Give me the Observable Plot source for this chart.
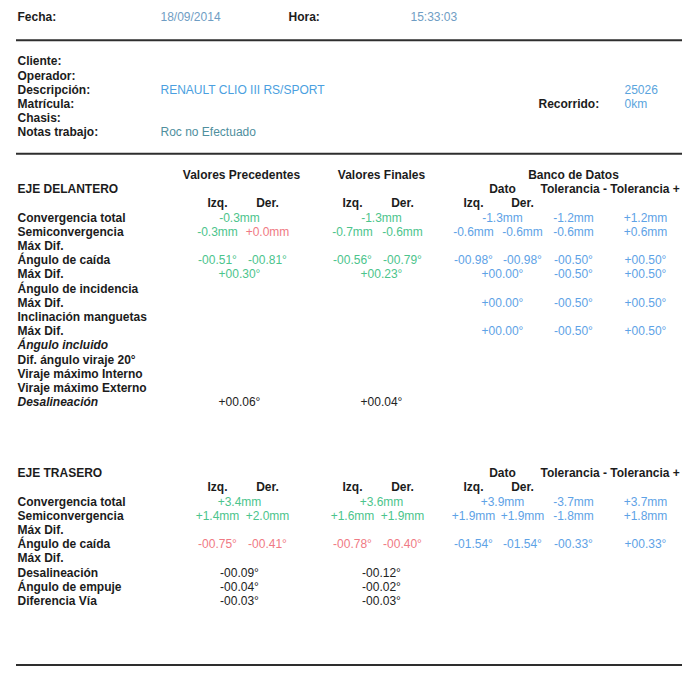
<!DOCTYPE html>
<html>
<head>
<meta charset="utf-8">
<script src="https://cdn.jsdelivr.net/npm/d3@7"></script>
<script src="https://cdn.jsdelivr.net/npm/@observablehq/plot@0.6"></script>
<style>
  html, body { margin: 0; padding: 0; background: #ffffff; }
  #chart svg { display: block; }
</style>
</head>
<body>
<div id="chart"></div>
<script>
// ---------- Data ----------
const fechaLabel = "Fecha:";
const fecha = "18/09/2014";
const horaLabel = "Hora:";
const hora = "15:33:03";

const headerLabels = ["Cliente:", "Operador:", "Descripción:", "Matrícula:", "Chasis:", "Notas trabajo:"];
const headerValues = ["", "", "RENAULT CLIO III RS/SPORT", "", "", "Roc no Efectuado"];
const codigo = "25026";
const recorridoLabel = "Recorrido:";
const recorrido = "0km";

const groupTitles = ["Valores Precedentes", "Valores Finales", "Banco de Datos"];
const datoTitle = "Dato";
const tolTitle = "Tolerancia - Tolerancia +";
const sideTitles = ["Izq.", "Der."];

const frontTitle = "EJE DELANTERO";
const frontLabels = ["Convergencia total", "Semiconvergencia", "Máx Dif.", "Ángulo de caída", "Máx Dif.",
  "Ángulo de incidencia", "Máx Dif.", "Inclinación manguetas", "Máx Dif.", "Ángulo incluido",
  "Dif. ángulo viraje 20°", "Viraje máximo Interno", "Viraje máximo Externo", "Desalineación"];
const frontItalic = ["Ángulo incluido", "Desalineación"];
const frontPrecedentes = [["-0.3mm"], ["-0.3mm", "+0.0mm"], [], ["-00.51°", "-00.81°"], ["+00.30°"],
  [], [], [], [], [], [], [], [], ["+00.06°"]];
const frontFinales = [["-1.3mm"], ["-0.7mm", "-0.6mm"], [], ["-00.56°", "-00.79°"], ["+00.23°"],
  [], [], [], [], [], [], [], [], ["+00.04°"]];
const frontDato = [["-1.3mm"], ["-0.6mm", "-0.6mm"], [], ["-00.98°", "-00.98°"], ["+00.00°"],
  [], ["+00.00°"], [], ["+00.00°"], [], [], [], [], []];
const frontTolMenos = ["-1.2mm", "-0.6mm", "", "-00.50°", "-00.50°", "", "-00.50°", "", "-00.50°", "", "", "", "", ""];
const frontTolMas = ["+1.2mm", "+0.6mm", "", "+00.50°", "+00.50°", "", "+00.50°", "", "+00.50°", "", "", "", "", ""];

const rearTitle = "EJE TRASERO";
const rearLabels = ["Convergencia total", "Semiconvergencia", "Máx Dif.", "Ángulo de caída", "Máx Dif.",
  "Desalineación", "Ángulo de empuje", "Diferencia Vía"];
const rearPrecedentes = [["+3.4mm"], ["+1.4mm", "+2.0mm"], [], ["-00.75°", "-00.41°"], [],
  ["-00.09°"], ["-00.04°"], ["-00.03°"]];
const rearFinales = [["+3.6mm"], ["+1.6mm", "+1.9mm"], [], ["-00.78°", "-00.40°"], [],
  ["-00.12°"], ["-00.02°"], ["-00.03°"]];
const rearDato = [["+3.9mm"], ["+1.9mm", "+1.9mm"], [], ["-01.54°", "-01.54°"], [], [], [], []];
const rearTolMenos = ["-3.7mm", "-1.8mm", "", "-00.33°", "", "", "", ""];
const rearTolMas = ["+3.7mm", "+1.8mm", "", "+00.33°", "", "", "", ""];

// ---------- Layout (separate from data) ----------
const col = {
  label: 17, headVal: 160, hora: 288, horaVal: 410, recorrido: 538, codigo: 624,
  vpC: 239, vpL: 217, vpR: 267,
  vfC: 381, vfL: 352, vfR: 402,
  bdC: 502, bdL: 473, bdR: 522, tolM: 573, tolP: 645,
  vpTitle: 241, vfTitle: 381, bdTitle: 573, tolTitle: 540
};
const row = { fecha: -3.1, rules: [-1.5, 6.5, 42.5], header0: 0, groupTitle: 8, frontTitle: 9, frontSides: 10, front0: 11,
  rearTitle: 29, rearSides: 30, rear0: 31 };
const colors = { label: "#1c1c1c", ok: "#4cc48c", bad: "#f07a84", plain: "#222222", dato: "#5ea2e6",
  fecha: "#6f9dc4", desc: "#4b9fe0", notas: "#4f8f9e", codigo: "#5aa4dd" };

const num = s => parseFloat(s);

// ---------- Build cells ----------
const boldStart = [], boldMid = [], italicStart = [], regStart = [], regMid = [];

boldStart.push({x: col.label, y: row.fecha, t: fechaLabel});
boldStart.push({x: col.hora, y: row.fecha, t: horaLabel});
regStart.push({x: col.headVal, y: row.fecha, t: fecha, c: colors.fecha});
regStart.push({x: col.horaVal, y: row.fecha, t: hora, c: colors.fecha});

headerLabels.forEach((l, i) => boldStart.push({x: col.label, y: row.header0 + i, t: l}));
headerValues.forEach((v, i) => { if (v) regStart.push({x: col.headVal, y: row.header0 + i, t: v, c: i === 2 ? colors.desc : colors.notas}); });
regStart.push({x: col.codigo, y: row.header0 + 2, t: codigo, c: colors.codigo});
boldStart.push({x: col.recorrido, y: row.header0 + 3, t: recorridoLabel});
regStart.push({x: col.codigo, y: row.header0 + 3, t: recorrido, c: colors.codigo});

boldMid.push({x: col.vpTitle, y: row.groupTitle, t: groupTitles[0]});
boldMid.push({x: col.vfTitle, y: row.groupTitle, t: groupTitles[1]});
boldMid.push({x: col.bdTitle, y: row.groupTitle, t: groupTitles[2]});

function section(title, titleRow, sidesRow, firstRow, labels, italics, prec, fin, dato, tolM, tolP) {
  boldStart.push({x: col.label, y: titleRow, t: title});
  boldMid.push({x: col.bdC, y: titleRow, t: datoTitle});
  boldStart.push({x: col.tolTitle, y: titleRow, t: tolTitle});
  [[col.vpL, col.vpR], [col.vfL, col.vfR], [col.bdL, col.bdR]].forEach(([l, r]) => {
    boldMid.push({x: l, y: sidesRow, t: sideTitles[0]});
    boldMid.push({x: r, y: sidesRow, t: sideTitles[1]});
  });
  labels.forEach((l, i) => {
    const y = firstRow + i;
    (italics.includes(l) ? italicStart : boldStart).push({x: col.label, y, t: l});
    const d = dato[i];
    const hasTol = tolM[i] !== "";
    const colorFor = (v, k) => {
      if (!hasTol) return colors.plain;
      const base = num(d.length > 1 ? d[k] : d[0]);
      const lo = base + num(tolM[i]), hi = base + num(tolP[i]);
      const x = num(v);
      return (x > lo + 1e-9 && x < hi - 1e-9) ? colors.ok : colors.bad;
    };
    const place = (vals, c, l2, r2, fixedColor) => {
      if (vals.length === 1) regMid.push({x: c, y, t: vals[0], c: fixedColor || colorFor(vals[0], 0)});
      else if (vals.length === 2) {
        regMid.push({x: l2, y, t: vals[0], c: fixedColor || colorFor(vals[0], 0)});
        regMid.push({x: r2, y, t: vals[1], c: fixedColor || colorFor(vals[1], 1)});
      }
    };
    place(prec[i], col.vpC, col.vpL, col.vpR);
    place(fin[i], col.vfC, col.vfL, col.vfR);
    place(d, col.bdC, col.bdL, col.bdR, colors.dato);
    if (tolM[i]) regMid.push({x: col.tolM, y, t: tolM[i], c: colors.dato});
    if (tolP[i]) regMid.push({x: col.tolP, y, t: tolP[i], c: colors.dato});
  });
}
section(frontTitle, row.frontTitle, row.frontSides, row.front0, frontLabels, frontItalic,
  frontPrecedentes, frontFinales, frontDato, frontTolMenos, frontTolMas);
section(rearTitle, row.rearTitle, row.rearSides, row.rear0, rearLabels, [],
  rearPrecedentes, rearFinales, rearDato, rearTolMenos, rearTolMas);

// ---------- Plot ----------
const W = 682, H = 675;
const rowPx = 14.2, originPx = 61;
const font = "'Liberation Sans', Arial, sans-serif";
const common = {x: "x", y: "y", text: "t", fontSize: 12, fontFamily: font};

const chart = Plot.plot({
  width: W, height: H, margin: 0,
  style: {background: "#ffffff", fontFamily: font, fontSize: "12px"},
  x: {type: "linear", domain: [0, W], range: [0, W], axis: null},
  y: {type: "linear", domain: [-originPx / rowPx, (H - originPx) / rowPx], range: [0, H], axis: null},
  marks: [
    Plot.ruleY(row.rules, {x1: col.label - 1, x2: W, stroke: "#2e2e2e", strokeWidth: 2}),
    Plot.text(boldStart, {...common, textAnchor: "start", fontWeight: "bold", fill: colors.label}),
    Plot.text(italicStart, {...common, textAnchor: "start", fontWeight: "bold", fontStyle: "italic", fill: colors.label}),
    Plot.text(boldMid, {...common, textAnchor: "middle", fontWeight: "bold", fill: colors.label}),
    Plot.text(regStart, {...common, textAnchor: "start", fill: "c"}),
    Plot.text(regMid, {...common, textAnchor: "middle", fill: "c"})
  ]
});
document.getElementById("chart").appendChild(chart);
</script>
</body>
</html>
